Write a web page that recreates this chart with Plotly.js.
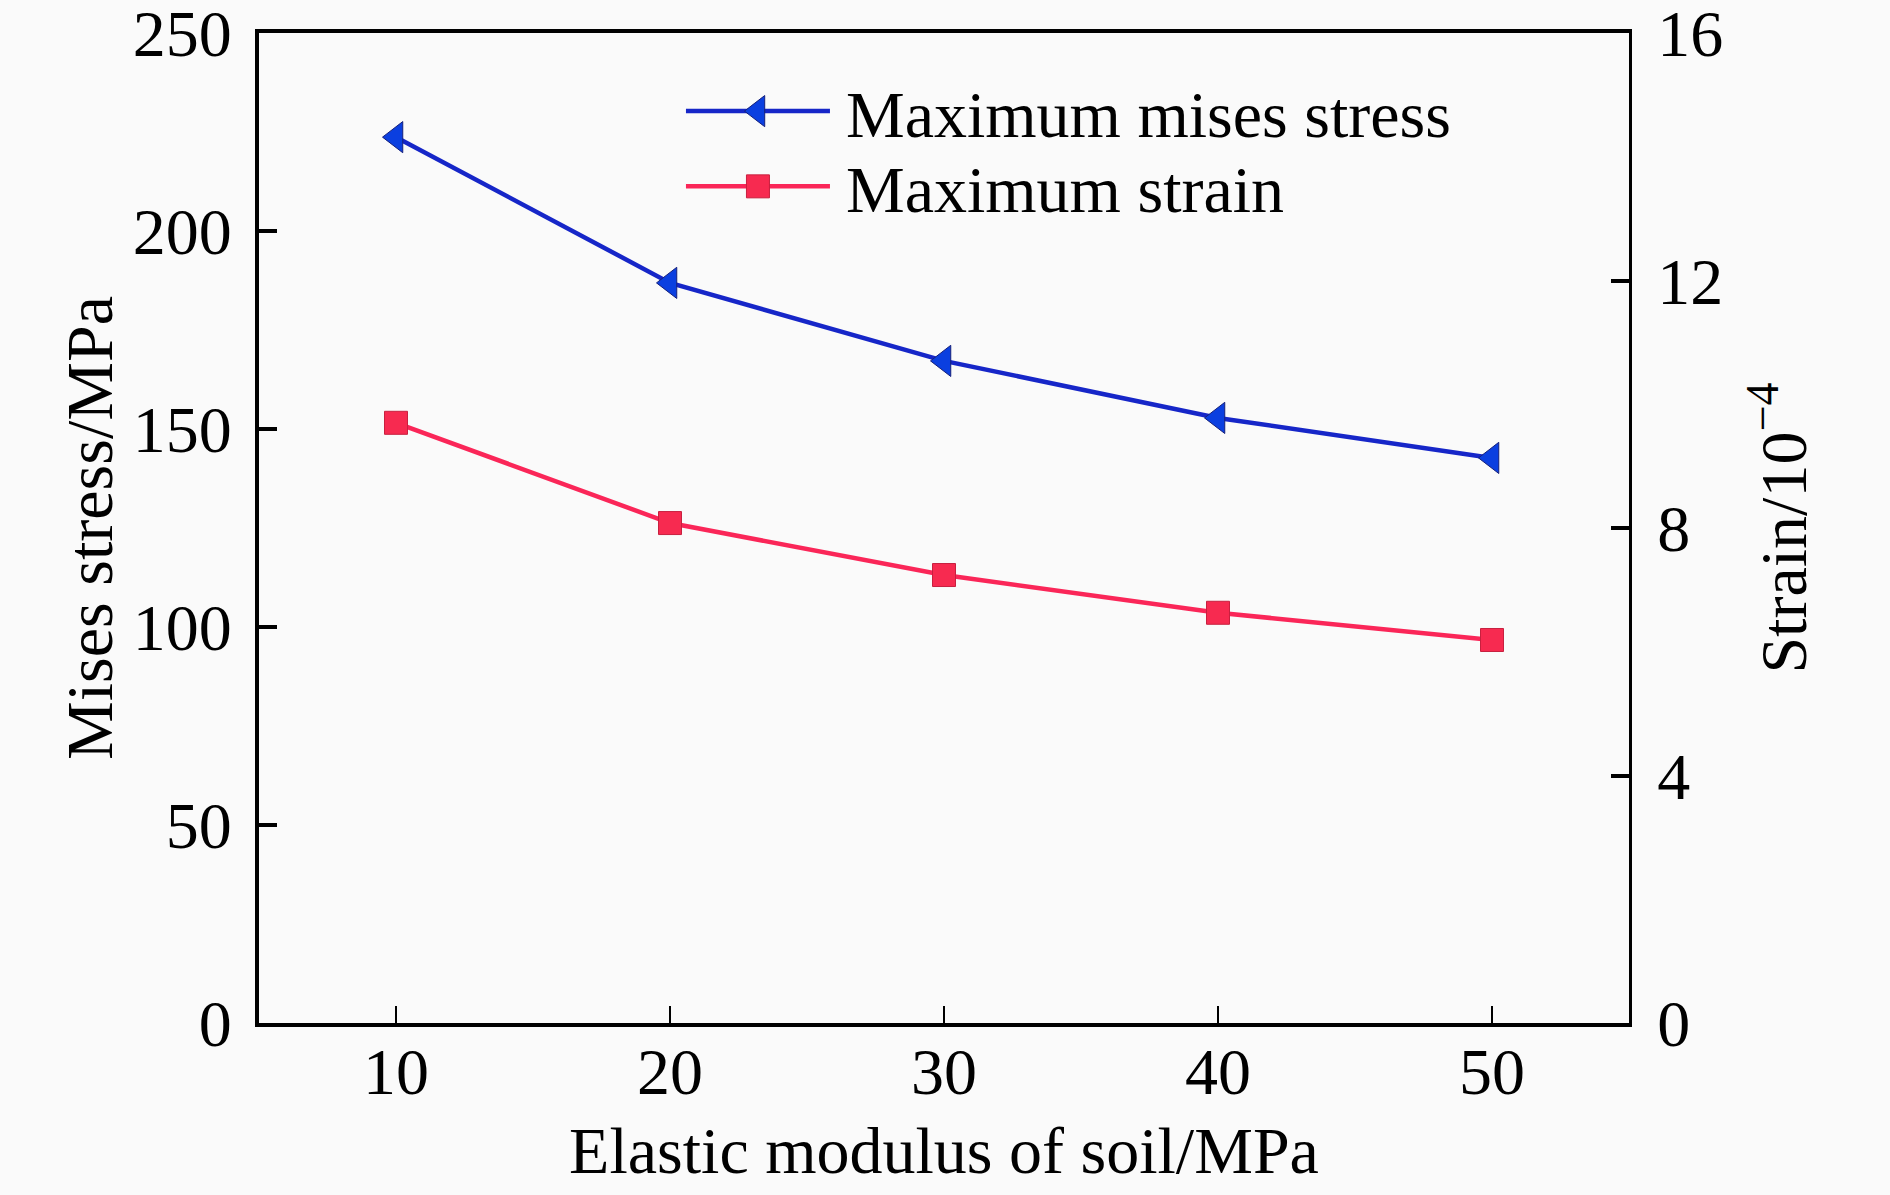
<!DOCTYPE html>
<html>
<head>
<meta charset="utf-8">
<script src="https://cdn.plot.ly/plotly-3.0.1.min.js"></script>
<style>
  html, body { margin: 0; padding: 0; background: #fafafa; }
  #chart { width: 1890px; height: 1195px; }
</style>
</head>
<body>
<div id="chart"></div>
<script>
// Elastic modulus of soil (MPa)
const modulus = [10, 20, 30, 40, 50];
// Maximum mises stress (MPa), left axis
const misesStress = [223.7, 186.9, 167.2, 152.8, 142.7];
// Maximum strain (x10^-4), right axis
const maxStrain = [9.70, 8.08, 7.24, 6.63, 6.19];

const xTicks = [10, 20, 30, 40, 50];
const yTicks = [0, 50, 100, 150, 200, 250];
const y2Ticks = [0, 4, 8, 12, 16];

const FONT = "Liberation Serif, Times New Roman, serif";

const traces = [
  {
    x: modulus,
    y: misesStress,
    name: "Maximum mises stress",
    type: "scatter",
    mode: "lines+markers",
    line: { color: "#1626c8", width: 4.5 },
    marker: { symbol: "triangle-left", size: 27, color: "#0b3fe0", line: { color: "#16207a", width: 1 } },
    legend: "legend",
  },
  {
    x: modulus,
    y: maxStrain,
    name: "Maximum strain",
    type: "scatter",
    mode: "lines+markers",
    yaxis: "y2",
    line: { color: "#fa2658", width: 4.5 },
    marker: { symbol: "square", size: 23, color: "#f72a50", line: { color: "#c8203f", width: 1 } },
    legend: "legend2",
  },
];

const tickFont = { family: FONT, size: 66, color: "#000" };
const titleFont = { family: FONT, size: 66, color: "#000" };

const legendBase = {
  xanchor: "left",
  yanchor: "middle",
  bgcolor: "rgba(0,0,0,0)",
  borderwidth: 0,
  font: { family: FONT, size: 66, color: "#000" },
  itemwidth: 155,
};

const layout = {
  width: 1890,
  height: 1195,
  paper_bgcolor: "#fafafa",
  plot_bgcolor: "#fafafa",
  margin: { l: 259, r: 261, t: 33, b: 172 },
  showlegend: true,
  legend: Object.assign({ x: 0.308, y: 0.921 }, legendBase),
  legend2: Object.assign({ x: 0.308, y: 0.845 }, legendBase),
  xaxis: {
    range: [5, 55],
    tickvals: xTicks,
    ticks: "inside",
    ticklen: 17,
    tickwidth: 2,
    tickcolor: "#000",
    showline: true,
    linewidth: 4,
    linecolor: "#000",
    mirror: true,
    showgrid: false,
    zeroline: false,
    tickfont: tickFont,
    ticklabelstandoff: -12,
    ticklabeloverflow: "allow",
    title: { text: "Elastic modulus of soil/MPa", font: titleFont, standoff: 21 },
  },
  yaxis: {
    range: [0, 250],
    tickvals: yTicks,
    ticks: "inside",
    ticklen: 18,
    tickwidth: 4,
    tickcolor: "#000",
    showline: true,
    linewidth: 4,
    linecolor: "#000",
    showgrid: false,
    zeroline: false,
    tickfont: tickFont,
    ticklabelstandoff: 10,
    ticklabeloverflow: "allow",
    title: { text: "Mises stress/MPa", font: titleFont, standoff: 0 },
  },
  yaxis2: {
    range: [0, 16],
    tickvals: y2Ticks,
    overlaying: "y",
    side: "right",
    ticks: "inside",
    ticklen: 18,
    tickwidth: 4,
    tickcolor: "#000",
    showline: true,
    linewidth: 3,
    linecolor: "#000",
    showgrid: false,
    zeroline: false,
    tickfont: tickFont,
    ticklabelstandoff: 12,
    ticklabeloverflow: "allow",
    title: { text: "Strain/10<sup>−4</sup>", font: titleFont, standoff: 38 },
  },
};

// stretch the legend sample lines and use full-size markers, as in the original key
function widenLegend() {
  const pts = document.querySelectorAll(".scatterlayer .trace");
  ["g.legend", "g.legend2"].forEach((sel, i) => {
    const lg = document.querySelector(sel);
    if (!lg) return;
    const src = pts[i] ? pts[i].querySelector(".points path") : null;
    lg.querySelectorAll("path.js-line").forEach((p) => p.setAttribute("d", "M5,0h144"));
    lg.querySelectorAll(".legendpoints path.scatterpts").forEach((p) => {
      p.setAttribute("transform", "translate(77,0)");
      if (src) p.setAttribute("d", src.getAttribute("d"));
    });
  });
}

Plotly.newPlot("chart", traces, layout, { displayModeBar: false, staticPlot: true }).then(widenLegend);
</script>
</body>
</html>
